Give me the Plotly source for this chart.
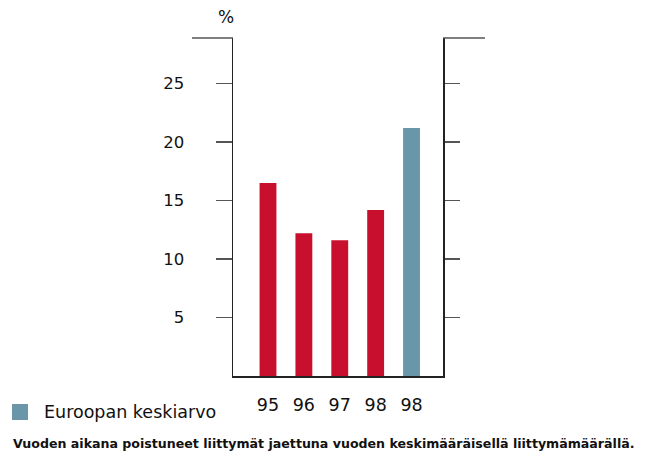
import plotly.graph_objects as go

categories = ["95", "96", "97", "98", "98"]
values = [16.5, 12.2, 11.6, 14.2, 21.2]
colors = ["#C8102E", "#C8102E", "#C8102E", "#C8102E", "#6996A8"]
ytick_vals = [5, 10, 15, 20, 25]
legend_label = "Euroopan keskiarvo"
footnote = "Vuoden aikana poistuneet liittymät jaettuna vuoden keskimääräisellä liittymämäärällä."
unit = "%"

W, H = 649, 452
L, R, T, B = 233, 443, 38, 376

def px(x):
    return (x - L) / (R - L)

def py(y):
    return (B - y) / (B - T)

xpos = list(range(len(categories)))
FONT = "DejaVu Sans"

fig = go.Figure()
fig.add_trace(go.Bar(x=xpos, y=values, marker=dict(color=colors, line=dict(width=0)),
                     width=0.47, showlegend=False, hoverinfo="skip"))
fig.add_trace(go.Scatter(x=[0], y=[0], yaxis="y2", mode="markers",
                         marker=dict(opacity=0), showlegend=False, hoverinfo="skip"))

yr = [0, 28.9]
fig.update_layout(
    width=W, height=H,
    margin=dict(l=L, r=W - R, t=T, b=H - B),
    plot_bgcolor="white", paper_bgcolor="white",
    font=dict(family=FONT, color="#111"),
    xaxis=dict(range=[-0.975, 4.877], tickvals=xpos, ticktext=categories,
               showline=True, linecolor="#222", linewidth=1.5, ticks="",
               showgrid=False, zeroline=False, tickfont=dict(size=17.5),
               ticklabelstandoff=12),
    yaxis=dict(range=yr, tickvals=ytick_vals, showline=True, linecolor="#222",
               linewidth=1.5, ticks="outside", ticklen=16, tickcolor="#555",
               tickwidth=1.5, showgrid=False, zeroline=False,
               tickfont=dict(size=16.5), ticklabelstandoff=28),
    yaxis2=dict(range=yr, overlaying="y", side="right", tickvals=ytick_vals,
                showline=True, linecolor="#222", linewidth=1.5, ticks="outside",
                ticklen=15, tickcolor="#555", tickwidth=1.5, showticklabels=False,
                showgrid=False, zeroline=False),
    shapes=[
        dict(type="line", xref="paper", yref="paper", x0=px(192), x1=px(233),
             y0=1, y1=1, line=dict(color="#555", width=1.5)),
        dict(type="line", xref="paper", yref="paper", x0=px(443), x1=px(485),
             y0=1, y1=1, line=dict(color="#555", width=1.5)),
        dict(type="rect", xref="paper", yref="paper", x0=px(12), x1=px(28),
             y0=py(420), y1=py(404), fillcolor="#6996A8", line=dict(width=0)),
    ],
    annotations=[
        dict(text=unit, xref="paper", yref="paper", x=px(226), y=py(17),
             showarrow=False, font=dict(size=17), xanchor="center", yanchor="middle"),
        dict(text=legend_label, xref="paper", yref="paper", x=px(42), y=py(412),
             showarrow=False, font=dict(size=17.5), xanchor="left", yanchor="middle"),
        dict(text=footnote, xref="paper", yref="paper", x=px(11), y=py(443),
             showarrow=False, font=dict(size=12.6, weight="bold"), xanchor="left", yanchor="middle"),
    ],
)

fig.write_html("out.html", config={"displayModeBar": False, "staticPlot": True})
with open("out.html", encoding="utf-8") as f:
    html = f.read()
html = html.replace("<body>", '<body style="margin:0;padding:0;overflow:hidden">', 1)
with open("out.html", "w", encoding="utf-8") as f:
    f.write(html)
